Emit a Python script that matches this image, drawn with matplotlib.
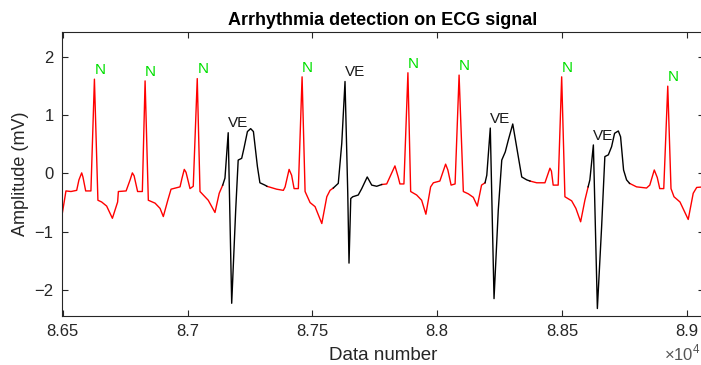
"""
ECG arrhythmia plot
-------------------
Plot a stretch of ECG signal with normal (N) beats in red and
ventricular ectopic (VE) beats in black, labelled at each R peak.
"""

import numpy as np
import matplotlib
matplotlib.use("Agg")
import matplotlib.pyplot as plt

plt.rcParams["font.family"] = ["Liberation Sans", "DejaVu Sans"]
plt.rcParams["mathtext.fontset"] = "custom"
plt.rcParams["mathtext.rm"] = "Liberation Sans"

# Trace vertices: sample index and amplitude (mV)
sample_idx = [
    86497, 86513, 86533, 86556, 86565, 86576, 86581, 86592, 86613, 86627,
    86641, 86656, 86676, 86699, 86720, 86723, 86754, 86770, 86779, 86786,
    86800, 86819, 86830, 86843, 86870, 86890, 86903, 86921, 86934, 86970,
    86978, 86987, 86994, 87010, 87023, 87039, 87050, 87063, 87083, 87110,
    87127, 87141, 87150, 87163, 87177, 87193, 87203, 87217, 87226, 87240,
    87253, 87264, 87280, 87290, 87310, 87318, 87357, 87384, 87391, 87400,
    87407, 87417, 87427, 87444, 87459, 87471, 87491, 87511, 87538, 87558,
    87571, 87584, 87604, 87618, 87631, 87642, 87647, 87654, 87662, 87684,
    87698, 87720, 87738, 87758, 87778, 87798, 87819, 87831, 87844, 87851,
    87867, 87883, 87894, 87918, 87938, 87955, 87974, 87985, 88011, 88023,
    88034, 88043, 88056, 88072, 88088, 88105, 88125, 88145, 88161, 88178,
    88192, 88199, 88213, 88228, 88245, 88259, 88273, 88285, 88303, 88325,
    88339, 88359, 88372, 88399, 88432, 88444, 88452, 88458, 88465, 88485,
    88499, 88512, 88539, 88556, 88575, 88592, 88605, 88612, 88626, 88642,
    88659, 88672, 88686, 88699, 88711, 88726, 88735, 88747, 88759, 88771,
    88799, 88839, 88852, 88870, 88882, 88892, 88908, 88924, 88937, 88949,
    88973, 89006, 89026, 89040, 89069,
]
amplitude = [
    -0.72, -0.30, -0.31, -0.29, -0.11, 0.01, -0.06, -0.30, -0.30, 1.62,
    -0.46, -0.49, -0.56, -0.77, -0.49, -0.31, -0.30, -0.11, 0.01, -0.04,
    -0.31, -0.31, 1.59, -0.46, -0.51, -0.60, -0.74, -0.46, -0.27, -0.23,
    -0.08, 0.07, 0.02, -0.26, -0.22, 1.63, -0.31, -0.37, -0.46, -0.67,
    -0.34, -0.20, -0.08, 0.70, -2.23, -0.63, 0.23, 0.26, 0.43, 0.72,
    0.77, 0.72, 0.12, -0.16, -0.20, -0.22, -0.27, -0.29, -0.23, -0.06,
    0.07, -0.03, -0.26, -0.26, 1.66, -0.31, -0.50, -0.57, -0.86, -0.40,
    -0.29, -0.25, -0.17, 0.52, 1.58, -0.34, -1.54, -0.43, -0.40, -0.37,
    -0.26, -0.06, -0.20, -0.22, -0.19, -0.18, 0.02, 0.13, -0.06, -0.18,
    -0.18, 1.73, -0.31, -0.37, -0.46, -0.70, -0.23, -0.16, -0.13, 0.02,
    0.16, 0.06, -0.20, -0.18, 1.69, -0.31, -0.35, -0.41, -0.56, -0.20,
    -0.16, -0.03, 0.78, -2.15, -0.63, 0.23, 0.37, 0.57, 0.85, 0.29,
    -0.06, -0.11, -0.13, -0.16, -0.16, -0.01, 0.09, 0.04, -0.20, -0.20,
    1.66, -0.40, -0.47, -0.60, -0.83, -0.46, -0.23, -0.11, 0.49, -2.32,
    -0.92, 0.29, 0.32, 0.46, 0.69, 0.73, 0.63, 0.06, -0.11, -0.17,
    -0.23, -0.25, -0.20, 0.06, -0.07, -0.26, -0.26, 1.50, -0.26, -0.40,
    -0.49, -0.79, -0.34, -0.24, -0.23,
]

# VE beat windows (first and last sample drawn in black)
ve_windows = [(87141, 87318), (87584, 87778), (88192, 88372), (88605, 88771)]

# R peak locations for the beat annotations
n_peaks = [86627, 86830, 87039, 87459, 87883, 88088, 88499, 88924]
ve_peaks = [87163, 87631, 88213, 88626]

x_ticks = [86500, 87000, 87500, 88000, 88500, 89000]
x_tick_labels = ["8.65", "8.7", "8.75", "8.8", "8.85", "8.9"]
y_ticks = [-2, -1, 0, 1, 2]

AX_COLOR = "#262626"


def split_segments(x, y, windows):
    """Return (normal_y, ve_y) with NaN where each class is not drawn."""
    in_ve = np.zeros(len(x), dtype=bool)
    inside = np.zeros(len(x), dtype=bool)
    for start, end in windows:
        in_ve |= (x >= start) & (x <= end)
        inside |= (x > start) & (x < end)
    normal_y = np.where(inside, np.nan, y)
    ve_y = np.where(in_ve, y, np.nan)
    return normal_y, ve_y


x = np.array(sample_idx, dtype=float)
y = np.array(amplitude, dtype=float)
normal_y, ve_y = split_segments(x, y, ve_windows)

fig = plt.figure(figsize=(7.01, 3.65), dpi=100)
ax = fig.add_axes([0.0884, 0.1356, 0.9158, 0.7767])

ax.plot(x, normal_y, color="#ff0000", lw=1.0)
ax.plot(x, ve_y, color="black", lw=1.0)

# Beat labels just above each R peak
peak_lookup = dict(zip(sample_idx, amplitude))
for p in n_peaks:
    ax.text(p, peak_lookup[p] + 0.09, "N", color="#00e000", fontsize=11,
            ha="left", va="baseline")
for p in ve_peaks:
    ax.text(p, peak_lookup[p] + 0.09, "VE", color="#1a1a1a", fontsize=11,
            ha="left", va="baseline")

ax.set_xlim(86497, 89069)
ax.set_ylim(-2.44, 2.43)
ax.set_xticks(x_ticks)
ax.set_xticklabels(x_tick_labels)
ax.set_yticks(y_ticks)

ax.tick_params(direction="in", length=4.5, width=0.8, colors=AX_COLOR,
               labelsize=12, top=True, right=True, pad=6)
for spine in ax.spines.values():
    spine.set_color(AX_COLOR)
    spine.set_linewidth(0.8)

ax.set_title("Arrhythmia detection on ECG signal", fontsize=13,
             fontweight="bold", pad=5)
ax.set_xlabel("Data number", fontsize=13.5, color=AX_COLOR, labelpad=6)
ax.set_ylabel("Amplitude (mV)", fontsize=13, color=AX_COLOR, labelpad=4)

# Axis exponent under the right end of the x axis
fig.text(0.999, 0.005, r"$\times10^{4}$", ha="right", va="bottom",
         fontsize=12, color="#555555")

fig.savefig("out.png", dpi=100)
